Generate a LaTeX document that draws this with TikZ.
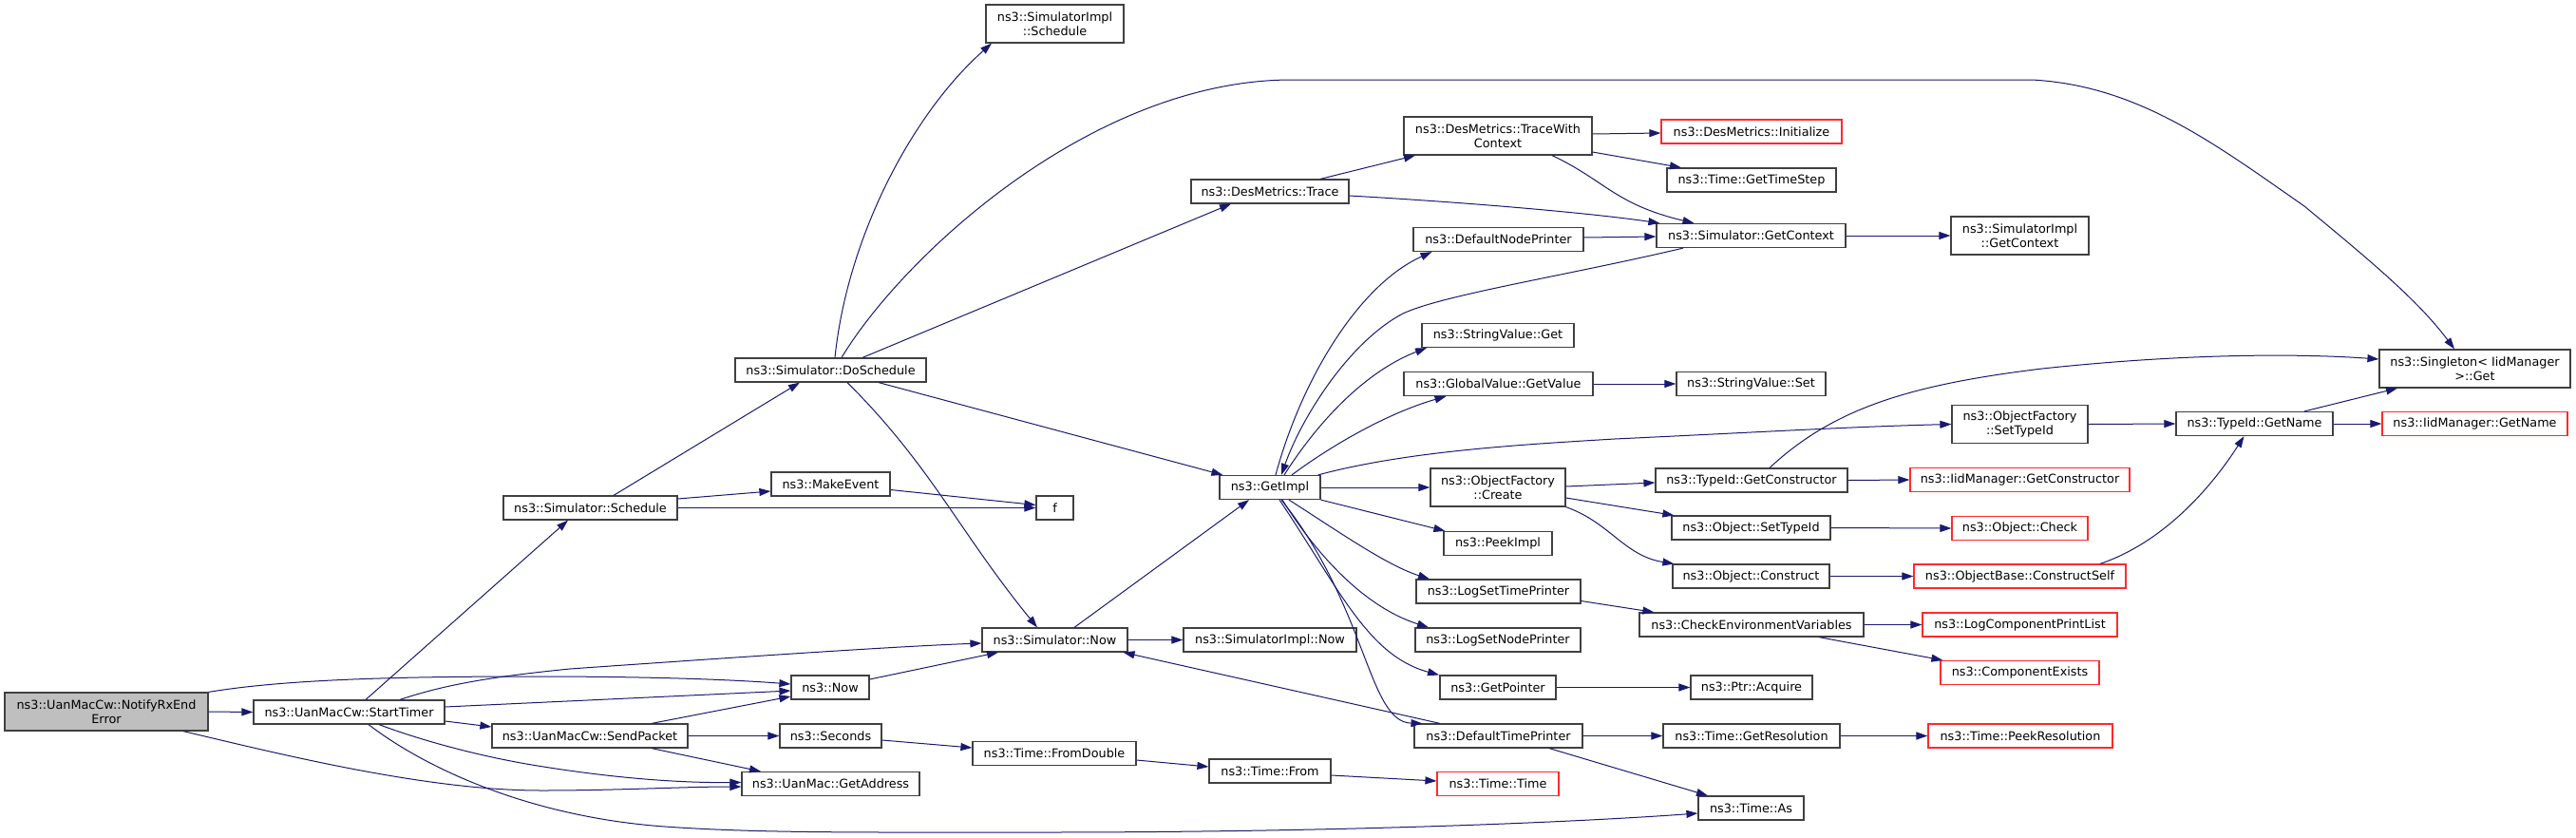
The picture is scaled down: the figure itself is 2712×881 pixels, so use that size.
\documentclass[tikz,border=0pt]{standalone}
\usepackage{fontspec}
\setmainfont{DejaVu Sans}
\usetikzlibrary{arrows.meta}
\definecolor{edgec}{HTML}{191970}
\definecolor{boxc}{HTML}{404040}
\definecolor{redc}{HTML}{FF2A2A}
\definecolor{rootc}{HTML}{BFBFBF}
\tikzset{
  fn/.style={draw=boxc, line width=1.2pt, inner sep=0pt, align=center,
    font=\fontsize{12.8}{14.5}\selectfont, minimum height=25pt, fill=white},
  fnr/.style={fn, draw=redc},
  two/.style={minimum height=40pt},
  root/.style={fn, fill=rootc, two},
  cg/.style={draw=edgec, line width=1pt, -{Triangle[length=12pt,width=8pt]}}
}
\begin{document}
\begin{tikzpicture}[x=1pt,y=-1pt]
\useasboundingbox (0,0) rectangle (2712,881);
% rank 0-3
\node[root, minimum width=214pt] (A) at (112,749) {ns3::UanMacCw::NotifyRxEnd\\Error};
\node[fn, minimum width=201pt] (B) at (367.5,749.5) {ns3::UanMacCw::StartTimer};
\node[fn, minimum width=183pt] (D) at (621.5,534.5) {ns3::Simulator::Schedule};
\node[fn, minimum width=206pt] (C) at (621,774.5) {ns3::UanMacCw::SendPacket};
\node[fn, minimum width=125pt] (ME) at (874.5,509.5) {ns3::MakeEvent};
\node[fn, minimum width=201pt] (DS) at (874.5,389.5) {ns3::Simulator::DoSchedule};
\node[fn, minimum width=82pt] (NOW) at (874,723.5) {ns3::Now};
\node[fn, minimum width=107pt] (SEC) at (874.5,774.5) {ns3::Seconds};
\node[fn, minimum width=187pt] (GA) at (874.5,825) {ns3::UanMac::GetAddress};
% rank 4
\node[fn, minimum width=39pt] (F) at (1110.5,534.5) {f};
\node[fn, minimum width=153pt] (SN) at (1110.5,673.5) {ns3::Simulator::Now};
\node[fn, minimum width=172pt] (FD) at (1110,793) {ns3::Time::FromDouble};
\node[fn, two, minimum width=145pt] (SIS) at (1110.5,25) {ns3::SimulatorImpl\\::Schedule};
% rank 5
\node[fn, minimum width=166pt] (TR) at (1337,201.5) {ns3::DesMetrics::Trace};
\node[fn, minimum width=106pt] (GI) at (1337,513) {ns3::GetImpl};
\node[fn, minimum width=128pt] (TF) at (1337,811.5) {ns3::Time::From};
\node[fn, minimum width=182pt] (SIN) at (1337,673.5) {ns3::SimulatorImpl::Now};
% rank 6
\node[fn, two, minimum width=198pt] (TWC) at (1577,143) {ns3::DesMetrics::TraceWith\\Context};
\node[fn, minimum width=179pt] (DNP) at (1577.5,252) {ns3::DefaultNodePrinter};
\node[fn, minimum width=160pt] (SVG) at (1577,353) {ns3::StringValue::Get};
\node[fn, minimum width=199pt] (GV) at (1577.5,404) {ns3::GlobalValue::GetValue};
\node[fn, two, minimum width=142pt] (OFC) at (1577,513) {ns3::ObjectFactory\\::Create};
\node[fn, minimum width=114pt] (PI) at (1577,572) {ns3::PeekImpl};
\node[fn, minimum width=173pt] (LSTP) at (1577.5,622.5) {ns3::LogSetTimePrinter};
\node[fn, minimum width=174pt] (LSNP) at (1577,673.5) {ns3::LogSetNodePrinter};
\node[fn, minimum width=122pt] (GP) at (1577,723.5) {ns3::GetPointer};
\node[fn, minimum width=177pt] (DTP) at (1577.5,774.5) {ns3::DefaultTimePrinter};
\node[fnr, minimum width=128pt] (TT) at (1577,825) {ns3::Time::Time};
% rank 7
\node[fnr, minimum width=190pt] (INIT) at (1844,138.5) {ns3::DesMetrics::Initialize};
\node[fn, minimum width=178pt] (GTS) at (1844,189.5) {ns3::Time::GetTimeStep};
\node[fn, minimum width=199pt] (GC) at (1843.5,248) {ns3::Simulator::GetContext};
\node[fn, minimum width=157pt] (SVS) at (1843.5,404) {ns3::StringValue::Set};
\node[fn, minimum width=202pt] (GCON) at (1844,505.5) {ns3::TypeId::GetConstructor};
\node[fn, minimum width=167pt] (OST) at (1843.5,555.5) {ns3::Object::SetTypeId};
\node[fn, minimum width=165pt] (OC) at (1843.5,606.5) {ns3::Object::Construct};
\node[fn, minimum width=236pt] (CEV) at (1844,657.5) {ns3::CheckEnvironmentVariables};
\node[fn, minimum width=128pt] (ACQ) at (1844,723.5) {ns3::Ptr::Acquire};
\node[fn, minimum width=186pt] (GR) at (1844,774.5) {ns3::Time::GetResolution};
\node[fn, minimum width=111pt] (TA) at (1843.5,850.5) {ns3::Time::As};
% rank 8
\node[fn, two, minimum width=145pt] (SIGC) at (2126.5,248) {ns3::SimulatorImpl\\::GetContext};
\node[fn, two, minimum width=143pt] (OFST) at (2126.5,446.5) {ns3::ObjectFactory\\::SetTypeId};
\node[fnr, minimum width=231pt] (IGC) at (2126.5,505) {ns3::IidManager::GetConstructor};
\node[fnr, minimum width=143pt] (CHK) at (2126.5,556) {ns3::Object::Check};
\node[fnr, minimum width=223pt] (OCS) at (2126.5,606.5) {ns3::ObjectBase::ConstructSelf};
\node[fnr, minimum width=205pt] (LCPL) at (2126.5,657.5) {ns3::LogComponentPrintList};
\node[fnr, minimum width=167pt] (CE) at (2126.5,708) {ns3::ComponentExists};
\node[fnr, minimum width=194pt] (PR) at (2127,774.5) {ns3::Time::PeekResolution};
% rank 9-10
\node[fn, minimum width=165pt] (GN) at (2373.5,446) {ns3::TypeId::GetName};
\node[fn, two, minimum width=201pt] (SG) at (2605.5,388) {ns3::Singleton< IidManager\\>::Get};
\node[fnr, minimum width=195pt] (IGN) at (2605.5,446) {ns3::IidManager::GetName};

% edges from root
\draw[cg] (A.east) -- (B.west);
\draw[cg] (A.north east) .. controls (300,715) and (420,712) .. (560,712) .. controls (700,712) and (780,716) .. ([shift={(0,-3.5)}]NOW.west);
\draw[cg] ([shift={(81,0)}]A.south) .. controls (300,795) and (450,832) .. (570,832) .. controls (650,832) and (720,828) .. ([shift={(0,3)}]GA.west);
% StartTimer
\draw[cg] ([shift={(17.5,0)}]B.north) -- ([shift={(-23.5,0)}]D.south);
\draw[cg] ([shift={(53.5,0)}]B.north) .. controls (470,720) and (520,712) .. (600,704) .. controls (800,690) and (950,680) .. ([shift={(0,3.5)}]SN.west);
\draw[cg] ([shift={(0,-5.5)}]B.east) -- ([shift={(0,3.5)}]NOW.west);
\draw[cg] ([shift={(0,9.5)}]B.east) -- ([shift={(0,-9.5)}]C.west);
\draw[cg] ([shift={(31.5,0)}]B.south) .. controls (440,778) and (500,795) .. (560,805) .. controls (650,820) and (720,824) .. ([shift={(0,-1.5)}]GA.west);
\draw[cg] ([shift={(20.5,0)}]B.south) .. controls (450,810) and (560,860) .. (700,870) .. controls (800,877) and (900,876) .. (1100,876) .. controls (1400,876) and (1650,866) .. ([shift={(0,5.5)}]TA.west);
% SendPacket
\draw[cg] ([shift={(65,0)}]C.north) -- ([shift={(0,9.5)}]NOW.west);
\draw[cg] (C.east) -- (SEC.west);
\draw[cg] ([shift={(65,0)}]C.south) -- ([shift={(-73.5,0)}]GA.north);
% Schedule
\draw[cg] ([shift={(24.5,0)}]D.north) -- ([shift={(-32.5,0)}]DS.south);
\draw[cg] ([shift={(0,-9.5)}]D.east) -- ([shift={(0,7.5)}]ME.west);
\draw[cg] (D.east) -- (F.west);
\draw[cg] ([shift={(0,6)}]ME.east) -- ([shift={(0,-3)}]F.west);
% DoSchedule
\draw[cg] ([shift={(4.5,0)}]DS.north) .. controls (892,250) and (960,120) .. ([shift={(-66.5,0)}]SIS.south);
\draw[cg] ([shift={(11.5,0)}]DS.north) .. controls (950,270) and (1150,84) .. (1360,84) -- (2139,84) .. controls (2250,90) and (2330,150) .. (2426,217) .. controls (2490,270) and (2545,315) .. ([shift={(-21.5,0)}]SG.north);
\draw[cg] ([shift={(33.5,0)}]DS.north) -- ([shift={(-41,0)}]TR.south);
\draw[cg] ([shift={(17.5,0)}]DS.south) .. controls (980,490) and (1010,560) .. ([shift={(-18.5,0)}]SN.north);
\draw[cg] ([shift={(50.5,0)}]DS.south) -- ([shift={(4,0)}]GI.north west);
% Simulator::Now and chain
\draw[cg] ([shift={(20.5,0)}]SN.north) -- ([shift={(-22,0)}]GI.south);
\draw[cg] (SN.east) -- (SIN.west);
\draw[cg] ([shift={(0,-8.5)}]NOW.east) -- ([shift={(-59.5,0)}]SN.south);
\draw[cg] ([shift={(0,4.5)}]SEC.east) -- ([shift={(0,-6)}]FD.west);
\draw[cg] ([shift={(0,7)}]FD.east) -- ([shift={(0,-4.5)}]TF.west);
\draw[cg] ([shift={(0,4.5)}]TF.east) -- ([shift={(0,-3)}]TT.west);
% DesMetrics
\draw[cg] ([shift={(53,0)}]TR.north) -- ([shift={(-87,0)}]TWC.south);
\draw[cg] ([shift={(0,4.5)}]TR.east) .. controls (1560,214) and (1680,225) .. ([shift={(4,0)}]GC.north west);
\draw[cg] ([shift={(0,-2)}]TWC.east) -- ([shift={(0,1.5)}]INIT.west);
\draw[cg] ([shift={(0,17)}]TWC.east) -- ([shift={(-74,0)}]GTS.north);
\draw[cg] ([shift={(57,0)}]TWC.south) .. controls (1690,190) and (1700,215) .. ([shift={(-60,0)}]GC.north);
\draw[cg] ([shift={(0,-2)}]DNP.east) -- ([shift={(0,1)}]GC.west);
\draw[cg] (GC.east) -- (SIGC.west);
% GetImpl
\draw[cg] ([shift={(6,0)}]GI.north) .. controls (1370,400) and (1430,300) .. ([shift={(-70,0)}]DNP.south);
\draw[cg] ([shift={(-71.5,0)}]GC.south) .. controls (1650,290) and (1520,310) .. (1477,330) .. controls (1420,360) and (1370,440) .. ([shift={(12,0)}]GI.north);
\draw[cg] ([shift={(15,0)}]GI.north) .. controls (1390,440) and (1440,390) .. ([shift={(-75,0)}]SVG.south);
\draw[cg] ([shift={(23,0)}]GI.north) .. controls (1400,470) and (1460,435) .. ([shift={(-55,0)}]GV.south);
\draw[cg] ([shift={(-3,0)}]GI.north east) .. controls (1480,475) and (1600,468) .. (1700,462) .. controls (1850,455) and (1950,449) .. (OFST.west);
\draw[cg] (GI.east) -- (OFC.west);
\draw[cg] (GI.south east) -- ([shift={(2,0)}]PI.north west);
\draw[cg] ([shift={(20,0)}]GI.south) .. controls (1410,560) and (1460,595) .. ([shift={(-72.5,0)}]LSTP.north);
\draw[cg] ([shift={(13,0)}]GI.south) .. controls (1390,590) and (1440,640) .. ([shift={(-73,0)}]LSNP.north);
\draw[cg] ([shift={(10,0)}]GI.south) .. controls (1410,620) and (1440,690) .. ([shift={(-62,0)}]GP.north);
\draw[cg] ([shift={(12,0)}]GI.south) .. controls (1440,640) and (1440,760) .. ([shift={(-80,0)}]DTP.north);
\draw[cg] ([shift={(-61.5,0)}]DTP.north) -- ([shift={(72,0)}]SN.south);
% ObjectFactory
\draw[cg] ([shift={(0,-1)}]OFC.east) -- ([shift={(0,2.5)}]GCON.west);
\draw[cg] ([shift={(0,11)}]OFC.east) -- ([shift={(3,0)}]OST.north west);
\draw[cg] (OFC.south east) .. controls (1695,550) and (1710,585) .. ([shift={(2,0)}]OC.north west);
\draw[cg] (GCON.east) -- (IGC.west);
\draw[cg] ([shift={(19,0)}]GCON.north) .. controls (1930,430) and (2010,405) .. (2150,388) .. controls (2300,372) and (2420,372) .. ([shift={(0,-10)}]SG.west);
\draw[cg] (OST.east) -- (CHK.west);
\draw[cg] (OC.east) -- (OCS.west);
\draw[cg] ([shift={(84.5,0)}]OCS.north) .. controls (2280,570) and (2330,510) .. ([shift={(-11,0)}]GN.south);
\draw[cg] (OFST.east) -- (GN.west);
\draw[cg] (GN.east) -- (IGN.west);
\draw[cg] ([shift={(52.5,0)}]GN.north) -- ([shift={(-81.5,0)}]SG.south);
% printers
\draw[cg] ([shift={(0,10)}]LSTP.east) -- ([shift={(16,0)}]CEV.north west);
\draw[cg] (CEV.east) -- (LCPL.west);
\draw[cg] ([shift={(71,0)}]CEV.south) -- ([shift={(3,0)}]CE.north west);
\draw[cg] (GP.east) -- (ACQ.west);
\draw[cg] (DTP.east) -- (GR.west);
\draw[cg] (GR.east) -- (PR.west);
\draw[cg] ([shift={(53.5,0)}]DTP.south) -- ([shift={(-45.5,0)}]TA.north);
\draw[cg] (GV.east) -- (SVS.west);
\end{tikzpicture}
\end{document}
